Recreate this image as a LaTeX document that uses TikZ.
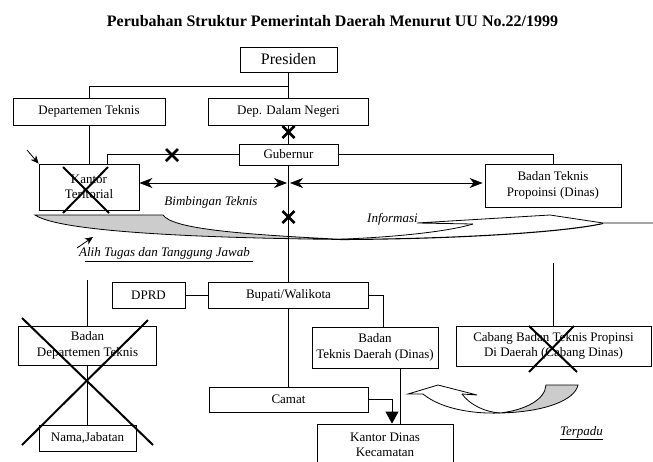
\documentclass[tikz,border=0pt]{standalone}
\usepackage{fontspec}
\setmainfont{Liberation Serif}
\usetikzlibrary{arrows.meta}
\begin{document}
\begin{tikzpicture}[x=1pt,y=-1pt,
  box/.style={draw, line width=0.8pt, inner sep=0pt, align=center,
    font=\fontsize{13}{15.5}\selectfont},
  conn/.style={line width=0.8pt},
  itxt/.style={font=\fontsize{13}{15.5}\selectfont\itshape, inner sep=0pt},
  bigx/.style={line width=2pt},
  dbl/.style={line width=0.8pt,
    {Stealth[length=13pt,width=10pt,inset=4pt]}-{Stealth[length=13pt,width=10pt,inset=4pt]}},
  pointer/.style={line width=0.8pt, -{Stealth[length=8pt,width=7pt,inset=2.5pt]}},
  xmark/.pic={\draw[line width=2.6pt] (-6,-6) -- (6,6) (-6,6) -- (6,-6);}
]
\useasboundingbox[fill=white] (0,0) rectangle (653,461);
\clip (0,0) rectangle (653,461);

% title
\node[font=\fontsize{16}{19}\selectfont\bfseries, inner sep=0pt] (title) at (332.5,21)
  {Perubahan Struktur Pemerintah Daerah Menurut UU No.22/1999};

% transfer ribbon: shaded tail
\path[fill=black!20, draw=black, line width=0.8pt]
  (35,215) -- (163,215) .. controls (172,228) and (230,234) .. (345,239.5)
  .. controls (200,238) and (60,232) .. (35,215) -- cycle;
% transfer ribbon: front with head
\draw[line width=0.8pt] (473,224) -- (417,223) -- (550,215) -- (603,223) -- (653,223);
\draw[line width=0.8pt] (338,239.3) .. controls (400,237) and (450,231) .. (473,224);
\draw[line width=1.1pt] (340,239.5) .. controls (460,239) and (565,232) .. (603,223.5);

% returning curved arrow
\path[fill=black!20, draw=black, line width=0.8pt]
  (546,385) -- (578,385) .. controls (575,400) and (545,412) .. (500,413)
  .. controls (525,410) and (545,400) .. (546,385) -- cycle;
\draw[line width=0.8pt] (462,394) .. controls (470,405) and (485,412) .. (500,413);
\draw[line width=0.8pt] (423,394) .. controls (440,408) and (470,414) .. (500,413);
\draw[line width=0.8pt, line join=miter] (423,394) -- (408,394) -- (438,385) -- (477,395) -- (462,394);

% boxes
\node[box, font=\fontsize{16}{19}\selectfont, minimum width=97pt, minimum height=25pt] (pres) at (288.5,59.5) {Presiden};
\node[box, minimum width=152pt, minimum height=27pt] (dept) at (89,111.5) {Departemen Teknis};
\node[box, minimum width=160pt, minimum height=27pt] (ddn) at (288.5,111.5) {Dep. Dalam Negeri};
\node[box, minimum width=99pt, minimum height=21pt] (gub) at (288.5,154.5) {Gubernur};
\node[box, minimum width=100pt, minimum height=46pt] (kantor) at (89,187) {Kantor\\Teritorial};
\node[box, minimum width=136pt, minimum height=43pt] (btp) at (553,185.5) {Badan Teknis\\Propoinsi (Dinas)};
\node[box, minimum width=73pt, minimum height=26pt] (dprd) at (148.5,295) {DPRD};
\node[box, minimum width=160pt, minimum height=26pt] (bupati) at (288.5,295) {Bupati/Walikota};
\node[box, minimum width=126pt, minimum height=41pt] (btd) at (375,347.5) {Badan\\Teknis Daerah (Dinas)};
\node[box, minimum width=195pt, minimum height=40pt] (cabang) at (553.5,346) {Cabang Badan Teknis Propinsi\\Di Daerah (Cabang Dinas)};
\node[box, minimum width=138pt, minimum height=39pt] (bdt) at (87.5,345.5) {Badan\\Departemen Teknis};
\node[box, minimum width=159pt, minimum height=25pt] (camat) at (288.5,399.5) {Camat};
\node[box, minimum width=97pt, minimum height=26pt] (nama) at (87.5,438) {Nama,Jabatan};
\node[box, minimum width=136pt, minimum height=42pt] (kdk) at (385,445) {Kantor Dinas\\Kecamatan};

% free ends of connectors
\coordinate (mid) at (288.5,183);
\coordinate (bdtin) at (87.5,280);
\coordinate (cabin) at (553.5,263);
\coordinate (tagA) at (27,150);
\coordinate (tagB) at (77,248);
\coordinate (tagBend) at (93,237);

% hierarchy connectors
\draw[conn] (pres.south) -- ++(0,14) -| (dept.north);
\draw[conn] (pres.south) -- (ddn.north);
\draw[conn] (ddn.south) -- (gub.north);
\draw[conn] (gub.west) -| ([xshift=18pt]kantor.north);
\draw[conn] (gub.east) -| (btp.north);
\draw[conn] (dept.south) -- (kantor.north);
\draw[conn] (gub.south) -- (bupati.north);
\draw[conn] (dprd.east) -- (bupati.west);
\draw[conn] (bupati.east) -| ([xshift=8pt]btd.north);
\draw[conn] (bupati.south) -- (camat.north);
\draw[conn, -{Triangle[length=12pt,width=13pt]}] (camat.east) -| ([xshift=7pt]kdk.north);
\draw[conn] ([xshift=25pt]btd.south) -- ([xshift=15pt]kdk.north);
\draw[conn] (bdtin) -- (bdt.north);
\draw[conn] (bdt.south) -- (nama.north);
\draw[conn] (cabin) -- (cabang.north);

% guidance arrows
\draw[dbl] ([yshift=4pt]kantor.east) -- ([xshift=-1.5pt]mid);
\draw[dbl, shorten >=2pt] ([xshift=1.5pt]mid) -- (btp.west |- mid);

% small pointers
\draw[pointer] (tagA) -- (kantor.north west);
\draw[pointer] (tagB) -- (tagBend);

% labels
\node[itxt] (bimb) at (211,202) {Bimbingan Teknis};
\node[itxt] (info) at (392.5,219) {Informasi};
\node[itxt] (alih) at (164.5,253) {Alih Tugas dan Tanggung Jawab};
\draw[conn] (85,261) -- (253,261);
\node[itxt] (terpadu) at (581.5,433) {\underline{Terpadu}};

% cut links
\pic at (288.5,132) {xmark};
\pic at (172,155) {xmark};
\pic at (288.5,217) {xmark};

% abolished units
\draw[bigx] (63,167) -- (109,213) (108,167) -- (63,213);
\draw[bigx] (529,326) -- (577,372) (574,326) -- (529,372);
\draw[bigx] (22,318) -- (153,445) (148,320) -- (22,445);
\end{tikzpicture}
\end{document}
